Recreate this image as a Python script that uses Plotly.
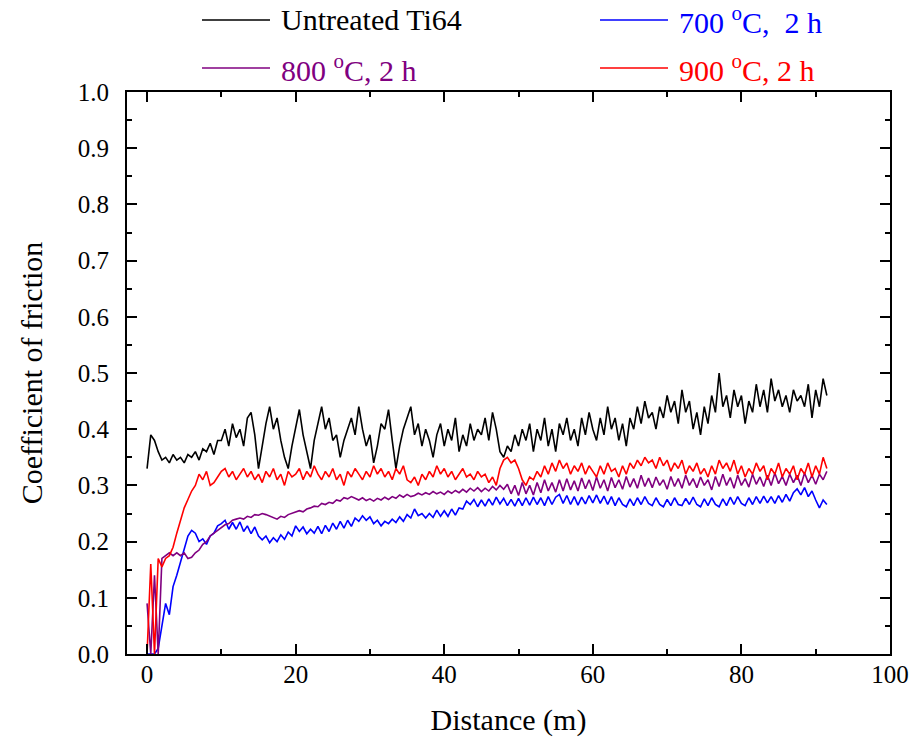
import plotly.graph_objects as go

# coefficient of friction vs sliding distance, every 0.5 m
step = 0.5

cof_untreated = [
    0.33, 0.39, 0.38, 0.36, 0.345, 0.35, 0.34, 0.355, 0.345, 0.35,
    0.34, 0.355, 0.35, 0.36, 0.345, 0.365, 0.36, 0.375, 0.355, 0.38,
    0.38, 0.40, 0.37, 0.41, 0.385, 0.40, 0.37, 0.42, 0.43, 0.39,
    0.33, 0.37, 0.41, 0.44, 0.40, 0.42, 0.38, 0.35, 0.33, 0.37,
    0.40, 0.435, 0.39, 0.36, 0.33, 0.38, 0.41, 0.44, 0.40, 0.42,
    0.38, 0.39, 0.35, 0.38, 0.40, 0.42, 0.39, 0.44, 0.40, 0.37,
    0.39, 0.34, 0.37, 0.41, 0.40, 0.435, 0.38, 0.33, 0.37, 0.40,
    0.42, 0.44, 0.39, 0.41, 0.37, 0.40, 0.38, 0.35, 0.39, 0.41,
    0.37, 0.40, 0.38, 0.42, 0.36, 0.39, 0.37, 0.41, 0.38, 0.40,
    0.39, 0.42, 0.38, 0.43, 0.40, 0.36, 0.35, 0.37, 0.36, 0.39,
    0.37, 0.40, 0.38, 0.41, 0.36, 0.40, 0.38, 0.42, 0.37, 0.40,
    0.36, 0.41, 0.39, 0.42, 0.38, 0.40, 0.37, 0.42, 0.39, 0.43,
    0.40, 0.38, 0.42, 0.39, 0.44, 0.40, 0.42, 0.38, 0.41, 0.37,
    0.42, 0.40, 0.44, 0.41, 0.45, 0.42, 0.43, 0.40, 0.44, 0.42,
    0.46, 0.43, 0.45, 0.41, 0.47, 0.43, 0.45, 0.40, 0.43, 0.39,
    0.44, 0.41, 0.46, 0.43, 0.50, 0.44, 0.46, 0.42, 0.47, 0.44,
    0.46, 0.41, 0.45, 0.43, 0.48, 0.44, 0.47, 0.43, 0.49, 0.45,
    0.47, 0.44, 0.46, 0.43, 0.47, 0.45, 0.46, 0.44, 0.48, 0.42,
    0.47, 0.44, 0.49, 0.46,
]

cof_700 = [
    0.0, 0.0, 0.0, 0.01, 0.05, 0.09, 0.07, 0.12, 0.14, 0.165,
    0.19, 0.21, 0.22, 0.215, 0.20, 0.205, 0.195, 0.21, 0.215, 0.228,
    0.232, 0.238, 0.222, 0.234, 0.222, 0.235, 0.218, 0.228, 0.214, 0.226,
    0.21, 0.203, 0.21, 0.198, 0.207, 0.2, 0.212, 0.204, 0.217, 0.21,
    0.228, 0.218, 0.226, 0.214, 0.222, 0.215, 0.227, 0.214, 0.229, 0.218,
    0.233, 0.222, 0.236, 0.224, 0.238, 0.227, 0.242, 0.236, 0.246, 0.238,
    0.244, 0.232, 0.238, 0.228, 0.236, 0.232, 0.24, 0.234, 0.244, 0.236,
    0.248, 0.242, 0.258, 0.246, 0.25, 0.242, 0.25, 0.243, 0.256, 0.245,
    0.255, 0.245, 0.258, 0.247, 0.26, 0.258, 0.272, 0.266, 0.275, 0.262,
    0.274, 0.263, 0.276, 0.265, 0.279, 0.267, 0.277, 0.264, 0.275, 0.263,
    0.277, 0.264, 0.278, 0.265, 0.279, 0.266, 0.278, 0.264, 0.28, 0.266,
    0.279, 0.284, 0.268, 0.282, 0.266, 0.28, 0.265, 0.279, 0.267, 0.282,
    0.269, 0.283, 0.268, 0.281, 0.266, 0.28, 0.264, 0.278, 0.266, 0.262,
    0.276, 0.264, 0.278, 0.266, 0.28, 0.268, 0.264, 0.278, 0.266, 0.262,
    0.275, 0.264, 0.278, 0.266, 0.264, 0.277, 0.266, 0.279, 0.266, 0.262,
    0.276, 0.264, 0.278, 0.266, 0.262, 0.276, 0.264, 0.279, 0.266, 0.28,
    0.268, 0.264, 0.278, 0.266, 0.28, 0.268, 0.281, 0.269, 0.28, 0.268,
    0.282, 0.27, 0.284, 0.272, 0.287, 0.294, 0.283, 0.296, 0.28, 0.29,
    0.274, 0.26, 0.274, 0.266,
]

cof_800 = [
    0.09, 0.0, 0.14, 0.0, 0.17, 0.175, 0.18, 0.175, 0.18, 0.175,
    0.18, 0.17, 0.172, 0.18, 0.185, 0.195, 0.20, 0.21, 0.215, 0.22,
    0.225, 0.23, 0.232, 0.238, 0.24, 0.242, 0.24, 0.245, 0.243, 0.248,
    0.247, 0.25, 0.248, 0.245, 0.242, 0.24, 0.245, 0.243, 0.248, 0.25,
    0.252, 0.255, 0.253, 0.258, 0.26, 0.263, 0.262, 0.268, 0.266, 0.27,
    0.268, 0.274, 0.272, 0.278, 0.276, 0.28, 0.277, 0.274, 0.278, 0.273,
    0.276, 0.272, 0.277, 0.274, 0.279, 0.275, 0.28, 0.277, 0.283, 0.279,
    0.284, 0.28, 0.282, 0.286, 0.283, 0.287, 0.284, 0.289, 0.285, 0.288,
    0.284, 0.29, 0.286, 0.291, 0.287, 0.293, 0.288, 0.295, 0.29, 0.296,
    0.289, 0.295, 0.29, 0.298, 0.292, 0.30, 0.293, 0.302, 0.285, 0.30,
    0.282, 0.305, 0.285, 0.30, 0.283, 0.305, 0.287, 0.31, 0.29, 0.305,
    0.288, 0.31, 0.29, 0.312, 0.292, 0.308, 0.29, 0.313, 0.294, 0.31,
    0.291, 0.315, 0.295, 0.31, 0.29, 0.314, 0.296, 0.31, 0.293, 0.316,
    0.297, 0.312, 0.295, 0.318, 0.298, 0.313, 0.296, 0.315, 0.30, 0.31,
    0.293, 0.316, 0.298, 0.312, 0.295, 0.318, 0.30, 0.312, 0.296, 0.315,
    0.30, 0.31, 0.292, 0.316, 0.298, 0.32, 0.30, 0.314, 0.295, 0.318,
    0.30, 0.312, 0.297, 0.32, 0.302, 0.315, 0.298, 0.318, 0.30, 0.322,
    0.303, 0.316, 0.30, 0.32, 0.305, 0.318, 0.30, 0.322, 0.305, 0.318,
    0.302, 0.32, 0.31, 0.325,
]

cof_900 = [
    0.0, 0.16, 0.0, 0.17, 0.155, 0.17, 0.175, 0.19, 0.215, 0.24,
    0.26, 0.275, 0.29, 0.30, 0.32, 0.31, 0.325, 0.30, 0.305, 0.315,
    0.325, 0.33, 0.315, 0.325, 0.31, 0.32, 0.33, 0.315, 0.325, 0.31,
    0.32, 0.305, 0.325, 0.315, 0.33, 0.31, 0.32, 0.30, 0.325, 0.315,
    0.32, 0.33, 0.31, 0.325, 0.315, 0.335, 0.32, 0.31, 0.325, 0.315,
    0.33, 0.31, 0.32, 0.30, 0.325, 0.315, 0.33, 0.32, 0.31, 0.325,
    0.315, 0.335, 0.32, 0.33, 0.315, 0.325, 0.31, 0.33, 0.32, 0.335,
    0.31, 0.305, 0.315, 0.30, 0.32, 0.31, 0.325, 0.315, 0.335, 0.32,
    0.33, 0.315, 0.325, 0.31, 0.32, 0.33, 0.315, 0.32, 0.31, 0.325,
    0.315, 0.32, 0.305, 0.315, 0.30, 0.33, 0.345, 0.35, 0.34, 0.345,
    0.33, 0.31, 0.30, 0.315, 0.31, 0.325, 0.315, 0.335, 0.32, 0.34,
    0.325, 0.345, 0.33, 0.34, 0.32, 0.335, 0.325, 0.34, 0.32, 0.335,
    0.325, 0.315, 0.335, 0.32, 0.34, 0.325, 0.33, 0.315, 0.335, 0.32,
    0.34, 0.33, 0.345, 0.335, 0.35, 0.34, 0.345, 0.33, 0.35, 0.335,
    0.345, 0.325, 0.34, 0.33, 0.345, 0.32, 0.335, 0.325, 0.34, 0.32,
    0.33, 0.315, 0.335, 0.32, 0.345, 0.33, 0.34, 0.325, 0.345, 0.32,
    0.335, 0.315, 0.33, 0.32, 0.34, 0.325, 0.335, 0.31, 0.33, 0.32,
    0.34, 0.315, 0.33, 0.32, 0.335, 0.31, 0.33, 0.32, 0.34, 0.315,
    0.335, 0.32, 0.35, 0.33,
]

names = ["Untreated Ti64", "700 <sup>o</sup>C,&nbsp;&nbsp;2 h", "800 <sup>o</sup>C, 2 h", "900 <sup>o</sup>C, 2 h"]
colors = ["#000000", "#0000ff", "#800080", "#ff0000"]
series = [cof_untreated, cof_700, cof_800, cof_900]

FONT = "Liberation Serif"
W, H = 914, 746
L, R, T, B = 127, 24, 92, 92

fig = go.Figure()
for name, col, ys in zip(names, colors, series):
    xs = [i * step for i in range(len(ys))]
    fig.add_trace(go.Scatter(x=xs, y=ys, mode="lines", name=name,
                             line=dict(color=col, width=1.6), showlegend=False))

# hand-made legend above the frame (pixel positions -> paper coords)
def px2paper(px, py):
    return (px - L) / (W - L - R), (H - B - py) / (H - T - B)

legend_pos = [(202, 20), (600, 20), (202, 68), (600, 68)]
for (px, py), name, col in zip(legend_pos, names, colors):
    x0, y0 = px2paper(px, py)
    x1, _ = px2paper(px + 68, py)
    xt, _ = px2paper(px + 78, py + 1)
    fig.add_shape(type="line", xref="paper", yref="paper", x0=x0, x1=x1, y0=y0, y1=y0,
                  line=dict(color=col, width=1.3))
    fig.add_annotation(xref="paper", yref="paper", x=xt, y=y0, text=name, showarrow=False,
                       xanchor="left", yanchor="middle", borderpad=0,
                       font=dict(family=FONT, size=30, color=col))

axis_common = dict(showline=True, linecolor="black", linewidth=2, mirror="ticks",
                   ticks="inside", ticklen=10, tickwidth=2, tickcolor="black",
                   showgrid=False, zeroline=False, automargin=False,
                   tickfont=dict(family=FONT, size=25, color="black"),
                   title_font=dict(family=FONT, size=30, color="black"))

fig.update_xaxes(range=[-2.7, 100], dtick=20, tick0=0, title_text="Distance (m)", title_standoff=22,
                 minor=dict(dtick=10, tick0=0, ticks="inside", ticklen=5, tickwidth=2, tickcolor="black"),
                 ticklabelstandoff=-3, **axis_common)
fig.update_yaxes(range=[0, 1.0], dtick=0.1, tick0=0, tickformat=".1f", title_text="Coefficient of friction",
                 title_standoff=26,
                 minor=dict(dtick=0.05, tick0=0, ticks="inside", ticklen=5, tickwidth=2, tickcolor="black"),
                 ticklabelstandoff=11, **axis_common)

fig.update_layout(width=W, height=H, margin=dict(l=L, r=R, t=T, b=B),
                  font=dict(family=FONT),
                  plot_bgcolor="white", paper_bgcolor="white", showlegend=False)

# drop the default 8px page margin so the figure sits at the window corner
fig.write_html("out.html", config={"displayModeBar": False},
               post_script="document.body.style.margin='0';")
